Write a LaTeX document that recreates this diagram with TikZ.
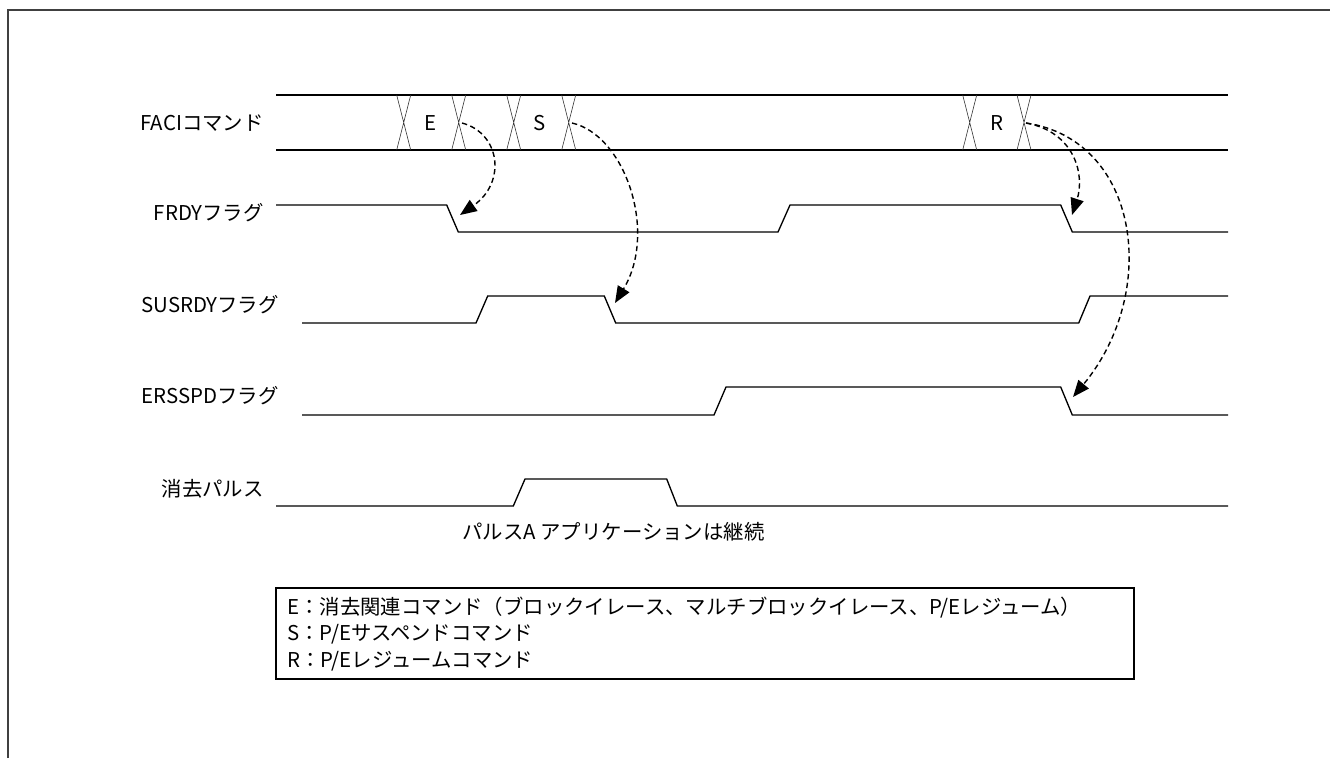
\documentclass[tikz,border=0pt]{standalone}
\usepackage{fontspec}
\setmainfont{Noto Sans CJK JP}
\usetikzlibrary{arrows.meta}

\begin{document}
\begin{tikzpicture}[x=0.75pt,y=-0.75pt,font=\fontsize{15.3}{18}\selectfont,inner sep=0pt,
  wave/.style={line width=1pt,line join=miter},
  xmark/.style={line width=.45pt,black!80},
  cause/.style={line width=1.05pt,dash pattern=on 4pt off 2.6pt,-{Triangle[length=12.5pt,width=10pt]}}]
\useasboundingbox (0,0) rectangle (1330,758);
\draw[line width=1.5pt,black!75] (8,758)--(8,10)--(1330,10);
% signal names
\node[anchor=base east] (faci) at (264,130.0) {FACIコマンド};
\node[anchor=base east] (frdy) at (264,220.7) {FRDYフラグ};
\node[anchor=base east] (susrdy) at (279,312.0) {SUSRDYフラグ};
\node[anchor=base east] (ersspd) at (279,403.0) {ERSSPDフラグ};
\node[anchor=base east] (pulse) at (264,496.0) {消去パルス};
% FACI command bus
\draw[wave] (276,95)--(1228,95);
\draw[wave] (276,150)--(1228,150);
\foreach \cx in {403.7,458.7,513.7,568.7,969.7,1024.0}
  \draw[xmark] ({\cx-7},95)--({\cx+7},150) ({\cx+7},95)--({\cx-7},150);
\node[anchor=base] (cmde) at (431,130) {E};
\node[anchor=base] (cmds) at (540,130) {S};
\node[anchor=base] (cmdr) at (997,130) {R};
% flags
\draw[wave] (276,205)--(446.7,205)--(458.3,232)--(778,232)--(790,205)--(1060.7,205)--(1072.3,232)--(1228,232);
\draw[wave] (302,323)--(476,323)--(487.7,296)--(604.3,296)--(615.7,323)--(1078.7,323)--(1090,296)--(1228,296);
\draw[wave] (302,415)--(714,415)--(726,387)--(1060.7,387)--(1072.3,415)--(1228,415);
\draw[wave] (276,506)--(513.3,506)--(525,479)--(666.7,479)--(677.3,506)--(1228,506);
\node[anchor=base west] (pulsenote) at (462,539.5) {パルスA アプリケーションは継続};
% causes
\coordinate (xe) at (462,123);
\coordinate (xs) at (572,123);
\coordinate (xr) at (1026,123);
\coordinate (frdyfall) at (460,215);
\coordinate (susfall) at (615,303);
\coordinate (frdyfallb) at (1072,215);
\coordinate (ersfall) at (1073,397);
\draw[cause] (xe) .. controls (500,133) and (507,182) .. (frdyfall);
\draw[cause] (xs) .. controls (625,135) and (658,232) .. (susfall);
\draw[cause] (xr) .. controls (1075,132) and (1085,175) .. (frdyfallb);
\draw[cause] (xr) .. controls (1140,140) and (1160,292) .. (ersfall);
% legend
\draw[line width=.8pt] (276,588) rectangle (1134,679);
\node[anchor=base west] (keye) at (287,614.0) {E：消去関連コマンド（ブロックイレース、マルチブロックイレース、P/Eレジューム）};
\node[anchor=base west] (keys) at (287,640.7) {S：P/Eサスペンドコマンド};
\node[anchor=base west] (keyr) at (287,667.3) {R：P/Eレジュームコマンド};
\end{tikzpicture}
\end{document}
